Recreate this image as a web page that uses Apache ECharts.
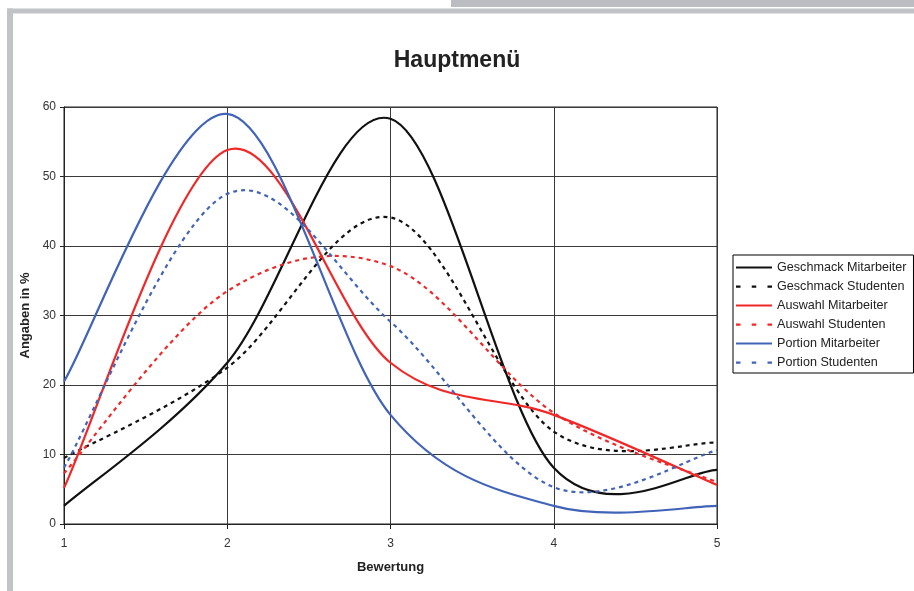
<!DOCTYPE html>
<html>
<head>
<meta charset="utf-8">
<script src="https://cdn.jsdelivr.net/npm/echarts@6/dist/echarts.min.js"></script>
<style>
html,body{margin:0;padding:0;background:#fff;}
#chart{width:914px;height:591px;}
</style>
</head>
<body>
<div id="chart"></div>
<script>
// ---- data ----
const titleText = 'Hauptmenü';
const xLabel = 'Bewertung';
const yLabel = 'Angaben in %';
const ratings = [1, 2, 3, 4, 5];
const seriesNames = ['Geschmack Mitarbeiter', 'Geschmack Studenten', 'Auswahl Mitarbeiter', 'Auswahl Studenten', 'Portion Mitarbeiter', 'Portion Studenten'];
const geschmackMitarbeiter = [2.6, 23.2, 58.3, 8.1, 7.8];
const geschmackStudenten   = [9.5, 22.5, 44.1, 13.3, 11.7];
const auswahlMitarbeiter   = [5.2, 53.8, 23.2, 15.7, 5.6];
const auswahlStudenten     = [7.3, 33.5, 37.1, 16.0, 6.0];
const portionMitarbeiter   = [20.5, 59.0, 15.7, 2.6, 2.6];
const portionStudenten     = [8.1, 47.5, 29.1, 5.3, 10.6];
const yTicks = [0, 10, 20, 30, 40, 50, 60];

const seriesValues = [geschmackMitarbeiter, geschmackStudenten, auswahlMitarbeiter, auswahlStudenten, portionMitarbeiter, portionStudenten];
const colors = ['#111111', '#111111', '#f02828', '#f02828', '#4264b8', '#4264b8'];
const dashed = [false, true, false, true, false, true];

// Excel-like smoothed curve through the data points (cubic Bezier, 1/6 tangents)
function makeRender(vals, color, isDash) {
  return function (params, api) {
    if (params.dataIndex !== 0) return null;
    const pts = ratings.map((x, i) => api.coord([x, vals[i]]));
    const n = pts.length;
    let d = 'M' + pts[0][0] + ' ' + pts[0][1];
    for (let i = 0; i < n - 1; i++) {
      const p0 = pts[Math.max(i - 1, 0)], p1 = pts[i], p2 = pts[i + 1], p3 = pts[Math.min(i + 2, n - 1)];
      const c1x = p1[0] + (p2[0] - p0[0]) / 6, c1y = p1[1] + (p2[1] - p0[1]) / 6;
      const c2x = p2[0] - (p3[0] - p1[0]) / 6, c2y = p2[1] - (p3[1] - p1[1]) / 6;
      d += ' C' + c1x + ' ' + c1y + ' ' + c2x + ' ' + c2y + ' ' + p2[0] + ' ' + p2[1];
    }
    return {
      type: 'path',
      shape: { pathData: d },
      style: { stroke: color, fill: null, lineWidth: 2.2, lineDash: isDash ? [4, 4] : null }
    };
  };
}

const solidIcon = 'path://M0 0h36v2h-36z';
const dashIcon = 'path://M0 0h4v2h-4z M14 0h4v2h-4z M28 0h4v2h-4z';

const series = seriesNames.map((name, k) => ({
  name: name,
  type: 'custom',
  coordinateSystem: 'cartesian2d',
  encode: { x: 0, y: 1 },
  itemStyle: { color: colors[k] },
  data: ratings.map((x, i) => [x, seriesValues[k][i]]),
  renderItem: makeRender(seriesValues[k], colors[k], dashed[k]),
  clip: false,
  z: 3
}));

const chart = echarts.init(document.getElementById('chart'), null, { renderer: 'canvas' });
const font = 'Liberation Sans, Arial, sans-serif';
chart.setOption({
  animation: false,
  backgroundColor: '#ffffff',
  title: {
    text: titleText,
    left: 'center', top: 44,
    textStyle: { fontFamily: font, fontWeight: 'bold', fontSize: 23, color: '#222' }
  },
  graphic: [
    { type: 'rect', shape: { x: 451, y: 0, width: 463, height: 7 }, style: { fill: '#bcbdc1' }, z: 10 },
    { type: 'rect', shape: { x: 7, y: 8.5, width: 907, height: 5 }, style: { fill: '#c2c3c7' }, z: 10 },
    { type: 'rect', shape: { x: 7, y: 8.5, width: 6, height: 583 }, style: { fill: '#c2c3c7' }, z: 10 }
  ],
  legend: {
    orient: 'vertical',
    left: 733, top: 255,
    padding: [6, 7, 4, 3],
    itemWidth: 36, itemHeight: 12, itemGap: 6,
    borderColor: '#000', borderWidth: 1,
    backgroundColor: '#fff',
    textStyle: { fontFamily: font, fontSize: 12.6, color: '#222' },
    data: seriesNames.map((n, k) => ({ name: n, icon: dashed[k] ? dashIcon : solidIcon }))
  },
  grid: { left: 64, top: 107, right: 197, bottom: 67, show: true, borderColor: '#222', borderWidth: 1, containLabel: false },
  xAxis: {
    type: 'value', min: 1, max: 5, interval: 1,
    name: xLabel, nameLocation: 'middle', nameGap: 37,
    nameTextStyle: { fontFamily: font, fontWeight: 'bold', fontSize: 13, color: '#222' },
    axisLine: { show: true, lineStyle: { color: '#222', width: 1 } },
    axisTick: { show: true, length: 5, lineStyle: { color: '#222' } },
    axisLabel: { fontFamily: font, fontSize: 12, color: '#333', margin: 14 },
    splitLine: { show: true, lineStyle: { color: '#3a3a3a', width: 1 } }
  },
  yAxis: {
    type: 'value', min: 0, max: 60, interval: 10,
    name: yLabel, nameLocation: 'middle', nameGap: 23, nameRotate: 90,
    nameTextStyle: { fontFamily: font, fontWeight: 'bold', fontSize: 13, color: '#222' },
    axisLine: { show: true, lineStyle: { color: '#222', width: 1 } },
    axisTick: { show: true, length: 4, lineStyle: { color: '#222' } },
    axisLabel: { fontFamily: font, fontSize: 12, color: '#333', margin: 8,
      formatter: v => (yTicks.indexOf(v) >= 0 ? String(v) : '') },
    splitLine: { show: true, lineStyle: { color: '#3a3a3a', width: 1 } }
  },
  series: series
});
</script>
</body>
</html>
